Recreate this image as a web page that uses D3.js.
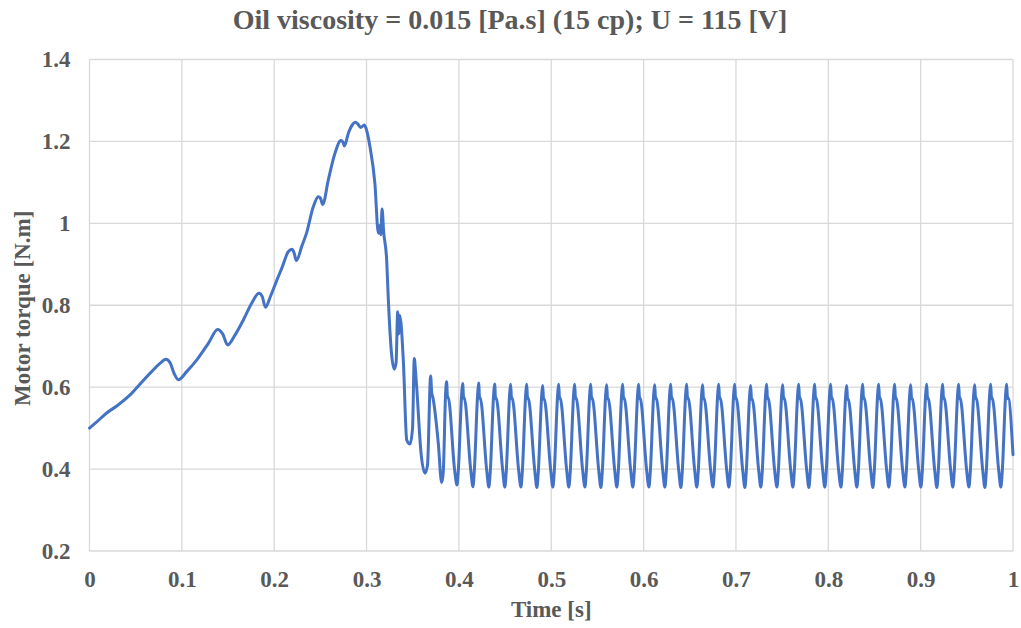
<!DOCTYPE html>
<html>
<head>
<meta charset="utf-8">
<script src="https://cdn.jsdelivr.net/npm/d3@7"></script>
<style>
  html, body { margin: 0; padding: 0; background: #ffffff; }
  svg { display: block; }
  text { font-family: "Liberation Serif", "Times New Roman", serif; font-weight: bold; fill: #595959; }
</style>
</head>
<body>
<svg id="chart" width="1021" height="628"></svg>
<script>
// ---- data ----
const titleText = "Oil viscosity = 0.015 [Pa.s] (15 cp); U = 115 [V]";
const xLabel = "Time [s]";
const yLabel = "Motor torque [N.m]";
const xTicks = [0, 0.1, 0.2, 0.3, 0.4, 0.5, 0.6, 0.7, 0.8, 0.9, 1];
const yTicks = [0.2, 0.4, 0.6, 0.8, 1, 1.2, 1.4];

// start-up transient
const timeStart = [
  0, 0.0078, 0.0186, 0.0295, 0.0439, 0.0565, 0.0673, 0.0763, 0.0828, 0.0872,
  0.0915, 0.0962, 0.1052, 0.1160, 0.1287, 0.1388, 0.1442, 0.1496, 0.1575, 0.1666,
  0.1756, 0.1835, 0.1871, 0.1905, 0.1960, 0.2030, 0.2090, 0.2150, 0.2195, 0.2215,
  0.2240, 0.2300, 0.2350, 0.2424, 0.2478, 0.2500, 0.2525, 0.2586, 0.2658, 0.2723,
  0.2745, 0.2760, 0.2803, 0.2850, 0.2875, 0.2905, 0.2936, 0.2976, 0.3000, 0.3037,
  0.3090, 0.3128, 0.3143, 0.3155, 0.3168, 0.3185, 0.3218, 0.3236, 0.3270, 0.3300,
  0.3320, 0.3337, 0.3348, 0.3360, 0.3398, 0.3435, 0.3470, 0.3498, 0.3517, 0.3530,
  0.3543, 0.3590, 0.3633, 0.3660, 0.3694, 0.3706, 0.3716, 0.3777, 0.3813, 0.3830,
  0.3857, 0.3867, 0.3877, 0.3883, 0.3955
];
const torqueStart = [
  0.500, 0.515, 0.537, 0.554, 0.581, 0.612, 0.638, 0.658, 0.668, 0.660,
  0.634, 0.618, 0.638, 0.666, 0.707, 0.741, 0.730, 0.703, 0.727, 0.764,
  0.805, 0.829, 0.821, 0.795, 0.822, 0.862, 0.895, 0.930, 0.937, 0.928,
  0.909, 0.945, 0.976, 1.041, 1.065, 1.062, 1.046, 1.106, 1.171, 1.202,
  1.198, 1.189, 1.220, 1.242, 1.247, 1.243, 1.234, 1.240, 1.228, 1.187,
  1.098, 0.976, 0.995, 0.972, 1.035, 0.980, 0.910, 0.813, 0.683, 0.644,
  0.660, 0.784, 0.730, 0.775, 0.666, 0.471, 0.461, 0.500, 0.670, 0.640,
  0.600, 0.439, 0.390, 0.410, 0.627, 0.585, 0.577, 0.463, 0.367, 0.390,
  0.590, 0.613, 0.575, 0.576, 0.395
];

// steady oscillation (one row per cycle: trough, rise, near-peak, peak, notch, shoulder, fall)
const timeSteady = [
  0.3979, 0.3994, 0.4031, 0.4041, 0.4051, 0.4057, 0.4129,
  0.4152, 0.4167, 0.4204, 0.4214, 0.4224, 0.4230, 0.4302,
  0.4325, 0.4340, 0.4377, 0.4387, 0.4397, 0.4403, 0.4475,
  0.4498, 0.4513, 0.4550, 0.4560, 0.4570, 0.4576, 0.4648,
  0.4672, 0.4687, 0.4724, 0.4734, 0.4744, 0.4750, 0.4822,
  0.4845, 0.4860, 0.4897, 0.4907, 0.4917, 0.4923, 0.4995,
  0.5018, 0.5033, 0.5070, 0.5080, 0.5090, 0.5096, 0.5168,
  0.5191, 0.5206, 0.5243, 0.5253, 0.5263, 0.5269, 0.5341,
  0.5365, 0.5380, 0.5417, 0.5427, 0.5437, 0.5443, 0.5515,
  0.5538, 0.5553, 0.5590, 0.5600, 0.5610, 0.5616, 0.5688,
  0.5711, 0.5726, 0.5763, 0.5773, 0.5783, 0.5789, 0.5861,
  0.5884, 0.5899, 0.5936, 0.5946, 0.5956, 0.5962, 0.6034,
  0.6058, 0.6073, 0.6110, 0.6120, 0.6130, 0.6136, 0.6208,
  0.6231, 0.6246, 0.6283, 0.6293, 0.6303, 0.6309, 0.6381,
  0.6404, 0.6419, 0.6456, 0.6466, 0.6476, 0.6482, 0.6554,
  0.6577, 0.6592, 0.6629, 0.6639, 0.6649, 0.6655, 0.6727,
  0.6751, 0.6766, 0.6803, 0.6813, 0.6823, 0.6829, 0.6901,
  0.6924, 0.6939, 0.6976, 0.6986, 0.6996, 0.7002, 0.7074,
  0.7097, 0.7112, 0.7149, 0.7159, 0.7169, 0.7175, 0.7247,
  0.7270, 0.7285, 0.7322, 0.7332, 0.7342, 0.7348, 0.7420,
  0.7444, 0.7459, 0.7496, 0.7506, 0.7516, 0.7522, 0.7594,
  0.7617, 0.7632, 0.7669, 0.7679, 0.7689, 0.7695, 0.7767,
  0.7790, 0.7805, 0.7842, 0.7852, 0.7862, 0.7868, 0.7940,
  0.7963, 0.7978, 0.8015, 0.8025, 0.8035, 0.8041, 0.8113,
  0.8137, 0.8152, 0.8189, 0.8199, 0.8209, 0.8215, 0.8287,
  0.8310, 0.8325, 0.8362, 0.8372, 0.8382, 0.8388, 0.8460,
  0.8483, 0.8498, 0.8535, 0.8545, 0.8555, 0.8561, 0.8633,
  0.8656, 0.8671, 0.8708, 0.8718, 0.8728, 0.8734, 0.8806,
  0.8830, 0.8845, 0.8882, 0.8892, 0.8902, 0.8908, 0.8980,
  0.9003, 0.9018, 0.9055, 0.9065, 0.9075, 0.9081, 0.9153,
  0.9176, 0.9191, 0.9228, 0.9238, 0.9248, 0.9254, 0.9326,
  0.9349, 0.9364, 0.9401, 0.9411, 0.9421, 0.9427, 0.9499,
  0.9523, 0.9538, 0.9575, 0.9585, 0.9595, 0.9601, 0.9673,
  0.9696, 0.9711, 0.9748, 0.9758, 0.9768, 0.9774, 0.9846,
  0.9869, 0.9884, 0.9921, 0.9931, 0.9941, 0.9947, 1.0000
];
const torqueSteady = [
  0.361, 0.398, 0.586, 0.609, 0.573, 0.575, 0.396,
  0.357, 0.396, 0.586, 0.610, 0.573, 0.575, 0.395,
  0.356, 0.395, 0.585, 0.608, 0.572, 0.574, 0.395,
  0.356, 0.395, 0.585, 0.607, 0.572, 0.574, 0.395,
  0.356, 0.395, 0.585, 0.607, 0.572, 0.574, 0.395,
  0.355, 0.394, 0.582, 0.604, 0.570, 0.572, 0.395,
  0.356, 0.395, 0.585, 0.607, 0.572, 0.574, 0.395,
  0.356, 0.395, 0.585, 0.607, 0.572, 0.574, 0.395,
  0.356, 0.395, 0.585, 0.607, 0.572, 0.574, 0.395,
  0.355, 0.395, 0.584, 0.606, 0.571, 0.573, 0.395,
  0.356, 0.395, 0.585, 0.607, 0.572, 0.574, 0.395,
  0.356, 0.395, 0.585, 0.607, 0.572, 0.574, 0.395,
  0.356, 0.395, 0.584, 0.606, 0.572, 0.574, 0.395,
  0.356, 0.395, 0.585, 0.607, 0.572, 0.574, 0.395,
  0.355, 0.395, 0.585, 0.607, 0.572, 0.574, 0.395,
  0.356, 0.395, 0.584, 0.606, 0.571, 0.573, 0.395,
  0.356, 0.395, 0.585, 0.607, 0.572, 0.574, 0.395,
  0.356, 0.395, 0.585, 0.607, 0.572, 0.574, 0.395,
  0.355, 0.395, 0.583, 0.604, 0.570, 0.572, 0.395,
  0.356, 0.395, 0.585, 0.607, 0.572, 0.574, 0.395,
  0.356, 0.395, 0.584, 0.606, 0.572, 0.574, 0.395,
  0.356, 0.395, 0.585, 0.607, 0.572, 0.574, 0.395,
  0.355, 0.395, 0.585, 0.607, 0.572, 0.574, 0.395,
  0.356, 0.395, 0.585, 0.607, 0.572, 0.574, 0.395,
  0.356, 0.395, 0.583, 0.604, 0.570, 0.572, 0.395,
  0.356, 0.395, 0.585, 0.607, 0.572, 0.574, 0.395,
  0.355, 0.395, 0.585, 0.607, 0.572, 0.574, 0.395,
  0.356, 0.395, 0.585, 0.607, 0.572, 0.574, 0.395,
  0.356, 0.395, 0.584, 0.606, 0.571, 0.573, 0.395,
  0.356, 0.395, 0.585, 0.607, 0.572, 0.574, 0.395,
  0.355, 0.395, 0.585, 0.607, 0.572, 0.574, 0.395,
  0.356, 0.395, 0.585, 0.607, 0.572, 0.574, 0.395,
  0.356, 0.395, 0.584, 0.606, 0.572, 0.574, 0.395,
  0.355, 0.395, 0.585, 0.607, 0.572, 0.574, 0.395,
  0.356, 0.395, 0.585, 0.607, 0.572, 0.574, 0.435
];

// ---- layout ----
const W = 1021, H = 628;
const margin = { left: 89.5, right: 8, top: 59.5, bottom: 77 };

const svg = d3.select("#chart");
const x = d3.scaleLinear().domain([0, 1]).range([margin.left, W - margin.right]);
const y = d3.scaleLinear().domain([0.2, 1.4]).range([H - margin.bottom, margin.top]);

// gridlines
const grid = svg.append("g").attr("class", "grid");
grid.selectAll("line.v").data(xTicks).enter().append("line")
  .attr("x1", d => x(d)).attr("x2", d => x(d))
  .attr("y1", y(1.4)).attr("y2", y(0.2))
  .attr("stroke", "#d9d9d9").attr("stroke-width", 1.3);
grid.selectAll("line.h").data(yTicks).enter().append("line")
  .attr("x1", x(0)).attr("x2", x(1))
  .attr("y1", d => y(d)).attr("y2", d => y(d))
  .attr("stroke", "#d9d9d9").attr("stroke-width", 1.3);

// axes (labels only)
const xAxis = d3.axisBottom(x).tickValues(xTicks).tickSize(0).tickPadding(20)
  .tickFormat(d => String(d));
const yAxis = d3.axisLeft(y).tickValues(yTicks).tickSize(0).tickPadding(19)
  .tickFormat(d => String(d));

const gx = svg.append("g").attr("transform", `translate(0,${y(0.2)})`).call(xAxis);
const gy = svg.append("g").attr("transform", `translate(${x(0)},0)`).call(yAxis);
[gx, gy].forEach(g => {
  g.select(".domain").remove();
  g.selectAll("text")
    .style("font-family", '"Liberation Serif", "Times New Roman", serif')
    .style("font-weight", "bold")
    .style("font-size", "23px")
    .attr("fill", "#595959");
});

// data line
const pts = timeStart.map((t, i) => [t, torqueStart[i]])
  .concat(timeSteady.map((t, i) => [t, torqueSteady[i]]));
const line = d3.line().x(d => x(d[0])).y(d => y(d[1])).curve(d3.curveMonotoneX);
svg.append("path").datum(pts)
  .attr("d", line)
  .attr("fill", "none")
  .attr("stroke", "#4472C4")
  .attr("stroke-width", 3)
  .attr("stroke-linejoin", "round")
  .attr("stroke-linecap", "round");

// titles
svg.append("text").attr("x", 510).attr("y", 29)
  .attr("text-anchor", "middle").style("font-size", "28px").text(titleText);
svg.append("text").attr("x", x(0.5)).attr("y", 617)
  .attr("text-anchor", "middle").style("font-size", "23px").text(xLabel);
svg.append("text").attr("transform", `translate(30,${(y(0.2) + y(1.4)) / 2 + 3}) rotate(-90)`)
  .attr("text-anchor", "middle").style("font-size", "23px").text(yLabel);
</script>
</body>
</html>
